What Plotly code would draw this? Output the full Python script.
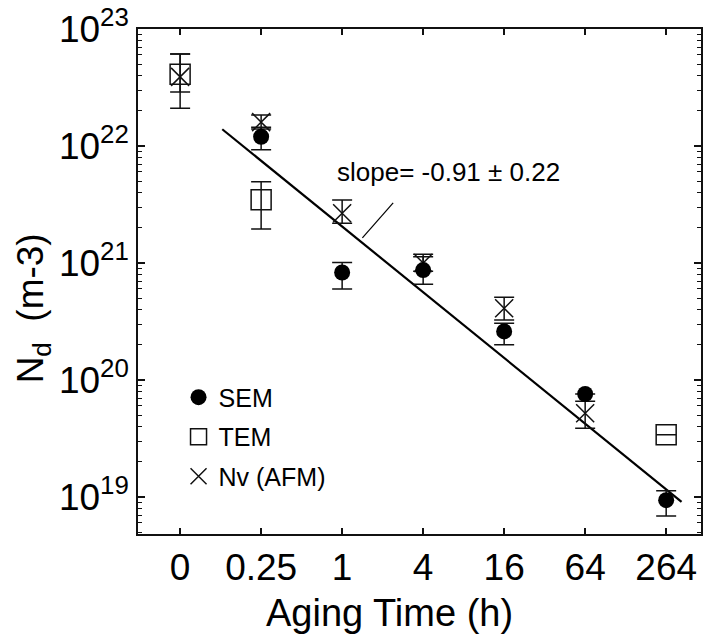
import plotly.graph_objects as go

# ---------------- data ----------------
categories = ["0", "0.25", "1", "4", "16", "64", "264"]
cat_index = [0, 1, 2, 3, 4, 5, 6]

# SEM (filled circles)
sem_idx = [1, 2, 3, 4, 5, 6]
sem_vals = [1.2e22, 8.3e20, 8.7e20, 2.6e20, 7.6e19, 9.4e18]
sem_upper = [1.45e22, 1.01e21, 1.13e21, 3.06e20, 7.6e19, 1.13e19]
sem_lower = [9.3e21, 6.0e20, 6.6e20, 2.0e20, 7.6e19, 6.9e18]

# TEM (open squares)
tem_idx = [0, 1, 6]
tem_vals = [4.1e22, 3.47e21, 3.4e19]
tem_upper = [6.1e22, 4.95e21, 3.4e19]
tem_lower = [2.1e22, 1.95e21, 3.4e19]

# Nv (AFM) (crosses)
afm_idx = [0, 1, 2, 3, 4, 5]
afm_vals = [3.9e22, 1.6e22, 2.66e21, 1.0e21, 4.1e20, 5.2e19]
afm_upper = [6.1e22, 1.84e22, 3.45e21, 1.19e21, 5.1e20, 6.6e19]
afm_lower = [2.9e22, 1.4e22, 2.19e21, 8.5e20, 3.26e20, 3.87e19]

# fitted line and its pointer
fit_idx = [0.52, 6.19]
fit_vals = [1.39e22, 9.1e18]
ptr_idx = [2.63, 2.25]
ptr_vals = [3.27e21, 1.64e21]
slope_text = "slope= -0.91 ± 0.22"

ytick_vals = [1e19, 1e20, 1e21, 1e22, 1e23]
ytick_text = ["10<sup>19</sup>", "10<sup>20</sup>", "10<sup>21</sup>",
              "10<sup>22</sup>", "10<sup>23</sup>"]

FONT = "Liberation Sans, Arial, Helvetica, sans-serif"
INK = "#111111"


def err(vals, up, lo):
    return dict(type="data", symmetric=False,
                array=[u - v for u, v in zip(up, vals)],
                arrayminus=[v - l for v, l in zip(vals, lo)],
                color=INK, thickness=1.5, width=10)


fig = go.Figure()

fig.add_trace(go.Scatter(
    x=fit_idx, y=fit_vals, mode="lines",
    line=dict(color="black", width=2.2), showlegend=False, hoverinfo="skip"))
fig.add_trace(go.Scatter(
    x=ptr_idx, y=ptr_vals, mode="lines",
    line=dict(color="black", width=1.2), showlegend=False, hoverinfo="skip"))

fig.add_trace(go.Scatter(
    x=tem_idx, y=tem_vals, mode="markers", name="TEM", legendgroup="b",
    legendrank=2,
    marker=dict(symbol="square-open", size=20, color=INK, line=dict(width=1.5, color=INK)),
    error_y=err(tem_vals, tem_upper, tem_lower)))
fig.add_trace(go.Scatter(
    x=afm_idx, y=afm_vals, mode="markers", name="Nv (AFM)", legendgroup="c",
    legendrank=3,
    marker=dict(symbol="x-thin-open", size=18, color=INK, line=dict(width=1.5, color=INK)),
    error_y=err(afm_vals, afm_upper, afm_lower)))
fig.add_trace(go.Scatter(
    x=sem_idx, y=sem_vals, mode="markers", name="SEM", legendgroup="a",
    legendrank=1,
    marker=dict(symbol="circle", size=16, color="black"),
    error_y=err(sem_vals, sem_upper, sem_lower)))

minor_vals = [float(m) * 10.0 ** k for k in range(18, 23) for m in range(2, 10)]

fig.update_xaxes(
    range=[-0.52, 6.43], tickmode="array", tickvals=cat_index, ticktext=categories,
    ticks="inside", ticklen=6, tickwidth=1.5, tickcolor=INK,
    showline=True, linewidth=1.5, linecolor=INK, mirror="ticks",
    showgrid=False, zeroline=False,
    tickfont=dict(family=FONT, size=37, color="black"))

fig.update_yaxes(
    type="log", range=[18.684, 23], tickmode="array", tickvals=ytick_vals, ticktext=ytick_text,
    ticks="inside", ticklen=7, tickwidth=1.5, tickcolor=INK,
    minor=dict(tickmode="array", tickvals=minor_vals, ticks="inside", ticklen=4,
               tickwidth=1, tickcolor=INK, showgrid=False),
    showline=True, linewidth=1.5, linecolor=INK, mirror="ticks",
    showgrid=False, zeroline=False,
    tickfont=dict(family=FONT, size=37, color="black"))

fig.add_annotation(
    x=1.913, y=21.78, xref="x", yref="y", text=slope_text, showarrow=False,
    xanchor="left", yanchor="middle",
    font=dict(family=FONT, size=26, color="black"))

fig.add_annotation(
    x=0.447, y=-0.156, xref="paper", yref="paper", text="Aging Time (h)",
    showarrow=False, xanchor="center", yanchor="middle",
    font=dict(family=FONT, size=38, color="black"))

pw, ph = 704 - 138 - 1, 638 - 29 - 104
fig.add_annotation(
    x=(33 - 138) / pw, y=(534 - 308) / ph, xref="paper", yref="paper",
    text="N<sub>d</sub>\u00a0\u00a0(m-3)",
    showarrow=False, textangle=-90, xanchor="center", yanchor="middle",
    font=dict(family=FONT, size=37, color="black"))

fig.update_layout(
    width=704, height=638,
    margin=dict(l=138, r=1, t=29, b=104),
    paper_bgcolor="white", plot_bgcolor="white",
    showlegend=True,
    legend=dict(x=0.072, y=0.316, xanchor="left", yanchor="top",
                bgcolor="rgba(0,0,0,0)", borderwidth=0,
                traceorder="grouped", tracegroupgap=4, itemsizing="trace",
                font=dict(family=FONT, size=25, color="black")),
)

fig.write_html("out.html")
